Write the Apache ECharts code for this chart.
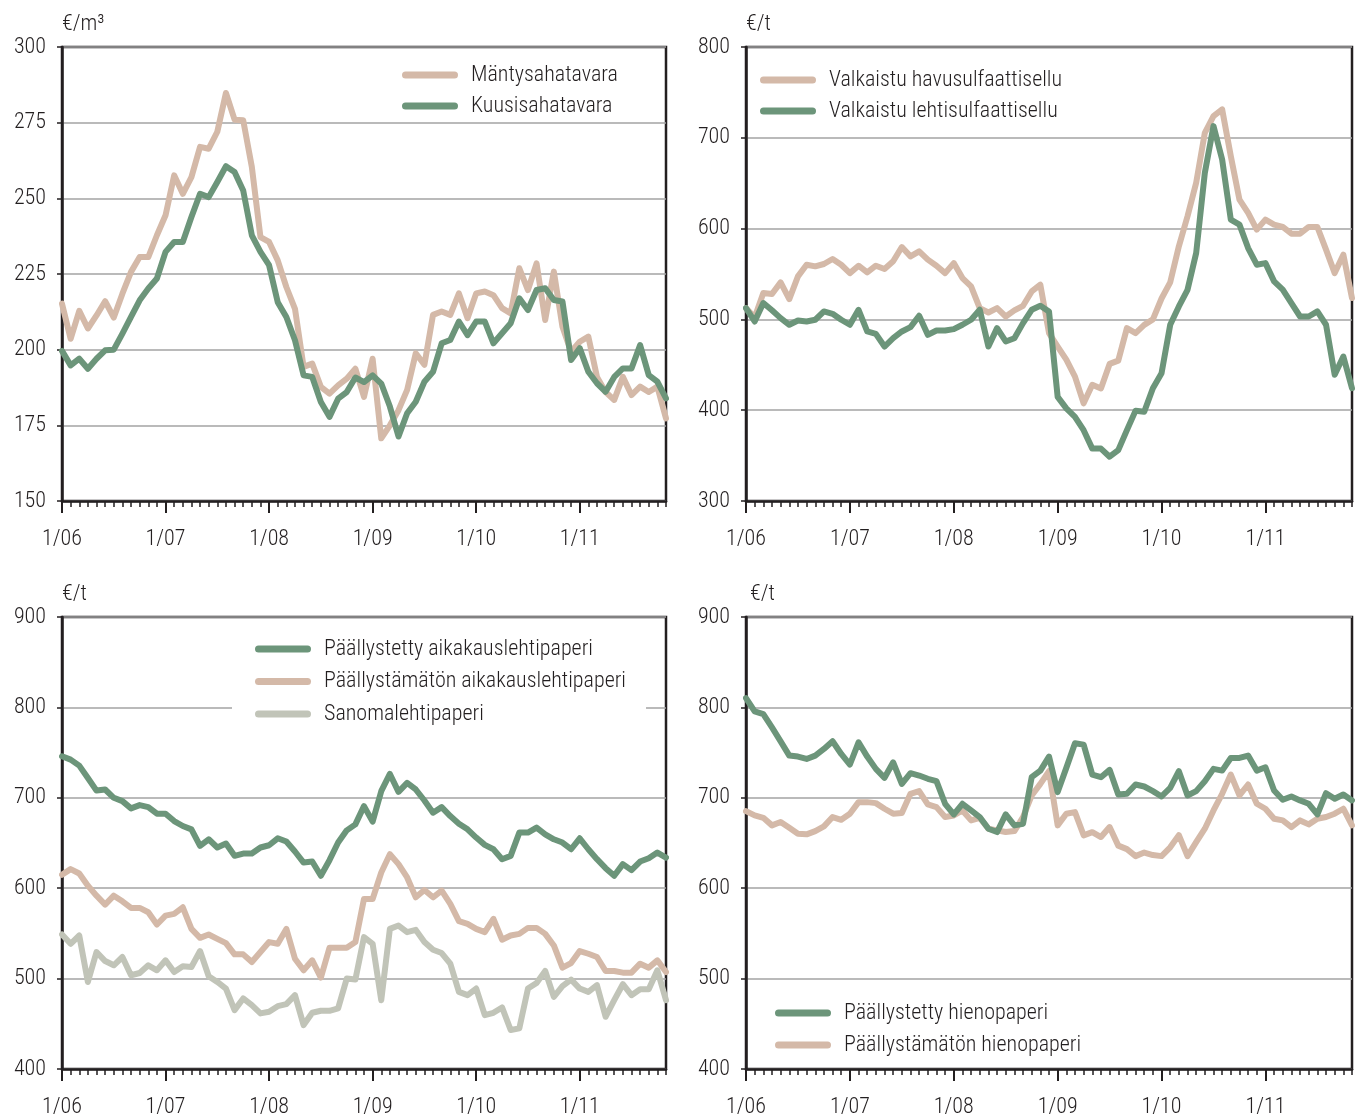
<!doctype html>
<html>
    <head>
        <meta charset="utf-8">
        <style>
            html, body { margin: 0; padding: 0; background: #fff; }
            #main { width: 1360px; height: 1120px; }
        </style>
    </head>
    <body>
        <div id="main"></div>
        <script src="https://cdn.jsdelivr.net/npm/echarts@6/dist/echarts.min.js"></script>
        <script>
            var chart = echarts.init(document.getElementById('main'));

            // x axis: monthly, 1/06 .. 11/11
            var yearLabels = ['06', '07', '08', '09', '10', '11'];
            var months = [];
            yearLabels.forEach(function (y) {
                for (var m = 1; m <= 12; m++) months.push(m + '/' + y);
            });
            months = months.slice(0, 71);

            // sahatavara, €/m³
            var mantysahatavara = [215.2, 203.6, 212.8, 207, 211.3, 216, 210.6, 218.5, 225.7, 230.6, 230.6, 237.8, 244.4, 257.6, 251.5, 257, 267, 266.4, 272, 284.8, 276, 275.8, 260.4, 237.2, 235.6, 229.5, 220.7, 213.5, 194.3, 195.4, 187.7, 185.5, 188.2, 190.4, 193.7, 184.4, 197, 170.7, 175, 180, 186.7, 198.8, 195, 211.5, 212.6, 211.5, 218.6, 210.4, 218.6, 219.2, 218, 213.7, 212, 226.9, 219.7, 228.5, 209.8, 225.8, 207.6, 199.3, 202.6, 204.3, 191, 186, 183.4, 191, 185, 187.8, 186, 187.8, 177.3];
            var kuusisahatavara = [199.6, 194.8, 197, 193.7, 197, 199.8, 200, 205.3, 210.8, 216.3, 220.2, 223.5, 232.3, 235.6, 235.6, 243.8, 251.5, 250.4, 255.4, 260.6, 258.7, 252.6, 237.8, 232.3, 227.9, 215.7, 210.8, 203.1, 191.5, 191, 182.7, 177.8, 183.8, 186, 190.8, 189.3, 191.5, 188.8, 181.2, 171.3, 179, 182.8, 189.4, 192.7, 202.1, 203.2, 209.3, 204.8, 209.3, 209.3, 202.1, 205.4, 208.7, 217, 213.1, 219.7, 220.3, 216.4, 215.9, 196.6, 200.5, 192.7, 188.9, 186.1, 191, 193.8, 193.8, 201.5, 191.6, 189.4, 183.9];

            // sellu, €/t
            var havusulfaatti = [512.4, 502, 529, 528, 540.8, 522.4, 547.4, 560.2, 558.4, 561, 566.5, 560.2, 551, 559.1, 551.8, 559.1, 555.5, 564, 579.7, 569.4, 575, 565.8, 559.1, 551, 562, 545.5, 536.3, 512.4, 507.6, 512.4, 503.2, 509.9, 515, 530.8, 538.2, 485, 470, 455.6, 437, 407.6, 428, 424, 451, 454.6, 490.4, 484.9, 494, 500, 523, 540.8, 580.5, 613.6, 650.4, 705.5, 723.9, 731.3, 679.8, 632, 617.2, 598.9, 609.9, 604.4, 601.8, 594.4, 594.4, 601.8, 601.8, 576.8, 551, 571.3, 523.5];
            var lehtisulfaatti = [512.4, 497.7, 518, 510, 501.4, 494.1, 498.8, 497.7, 499.6, 508.8, 506.2, 499.6, 494.1, 510.6, 486.7, 484.1, 470.1, 479.3, 486.7, 491.5, 504, 483, 487.8, 487.8, 489.3, 494.1, 499.6, 510.6, 470.1, 490.4, 475.7, 479.3, 495.9, 510.6, 515, 508.8, 414.7, 402, 392.6, 378, 357.7, 357.7, 348.8, 356, 378, 399.5, 398.3, 424.2, 440.7, 494, 514.3, 532.6, 573.1, 661.4, 712.9, 676.1, 609.9, 604.4, 578.6, 560.2, 562, 541.9, 532.7, 517.9, 503.2, 503.2, 508.8, 494.1, 439, 459.1, 424.2];

            // aikakauslehtipaperit ja sanomalehtipaperi, €/t
            var paallystettyAikak = [745.9, 742.2, 735.6, 722, 708, 709.2, 700, 696.3, 688.3, 691.9, 689.7, 682.4, 682.4, 674.3, 668.8, 665.1, 646.8, 654.1, 645, 649.4, 635.8, 638.3, 638.3, 645, 647.5, 655.2, 651.6, 640.6, 628.4, 629.5, 613.8, 631, 650.5, 664, 670.6, 690.8, 673.6, 707.3, 726.4, 706.6, 716.5, 709.2, 697, 683.5, 689.7, 679.8, 671.4, 665.1, 656, 647.9, 643.1, 632.1, 635.8, 661.5, 661.5, 667, 659.6, 654.1, 650.5, 643.1, 655.2, 643.1, 632.1, 622.2, 613.8, 626.6, 620, 629.5, 633.2, 639.4, 633.9];
            var paallystamatonAikak = [614.9, 621.1, 616.3, 602.8, 591.7, 581.8, 591.7, 585.5, 578.2, 578.2, 573.4, 559.8, 569.7, 571.6, 578.9, 555, 545.1, 548.8, 544, 539.3, 526.8, 526.8, 518.3, 529.4, 540.4, 538.5, 555, 522, 509.2, 520.2, 501.1, 534.1, 534.1, 534.1, 540.4, 588.1, 588.1, 617.4, 637.6, 626.6, 611.9, 589.9, 598, 589.9, 597.2, 582.6, 563.5, 560.6, 555, 551.4, 566.1, 543, 547.7, 549.5, 556.1, 556.1, 549.5, 536.7, 512.1, 517.2, 530.5, 527.5, 523.9, 508.4, 508.4, 506.6, 506.6, 516.5, 512.1, 520.2, 507.3];
            var sanomalehti = [548.8, 538.5, 547.7, 496.3, 529.4, 519.4, 514.7, 523.9, 503.7, 506.2, 514.7, 509.2, 520.2, 507.3, 513.6, 512.8, 530.5, 502.6, 496.3, 489, 465.1, 478, 470.6, 461.5, 463.3, 469.5, 471.7, 481.7, 448.6, 462.2, 464.4, 464.4, 467, 500, 498.9, 545.9, 538.5, 476.1, 555, 558.7, 551.4, 553.9, 540.4, 531.9, 528.3, 516.5, 485.3, 481.7, 489, 459.6, 462.2, 468.1, 443.1, 444.9, 489, 495.2, 508.4, 479.8, 491.6, 498.9, 489, 485.3, 492.7, 457.8, 476.1, 493.8, 481.7, 488.1, 488.1, 509.2, 476.1];

            // hienopaperit, €/t
            var paallystettyHieno = [810.3, 795.6, 792.6, 777.9, 762.5, 746.7, 745.6, 743, 746.7, 754, 762.5, 748.5, 736.8, 761.4, 745.6, 732, 722.1, 739.3, 715.4, 727.2, 724.6, 721, 718.4, 693.4, 681.6, 693.4, 686, 678.7, 665.8, 662.1, 681.6, 669.5, 671.3, 722.8, 730.1, 745.6, 706.3, 733.1, 760.3, 758.8, 725.7, 722.8, 730.9, 703.7, 704.4, 714.7, 712.5, 707.4, 701.5, 711, 729.4, 702.6, 707.4, 718.4, 732, 730.1, 744.1, 744.1, 746.7, 730.1, 733.8, 708.1, 697.8, 701.5, 697.1, 693.4, 681.6, 705.1, 698.9, 703.7, 697.1];
            var paallystamatonHieno = [685.3, 680.5, 677.9, 669.5, 673.2, 666.9, 660.3, 659.6, 663.2, 668.4, 678.7, 675.7, 682.4, 695.2, 695.2, 694.1, 687.9, 682.4, 683.1, 704.4, 707.4, 692.6, 689.7, 678.7, 680.5, 686, 675, 677.9, 665.8, 664, 662.1, 663.2, 678.7, 702.6, 715.4, 729.4, 669.5, 682.4, 684.2, 658.5, 662, 656.6, 667.6, 647.1, 643.2, 635.5, 639.4, 636.7, 635.5, 645.2, 658.7, 635.5, 651, 665.8, 686, 704.4, 725.7, 702.6, 714.7, 693.4, 687.9, 676.8, 675, 667.6, 675, 670.6, 676.8, 678.7, 682.4, 687.9, 669.5];

            var GREEN = '#6c957a';
            var TAN = '#d4b9a8';
            var GREY = '#c1c4b8';
            var INK = '#231f20';
            var FONT = "'Roboto Condensed', Roboto, sans-serif";
            var WEIGHT = 300;
            // rounded bar used as legend key
            var KEY = 'path://M3.5,0 H52.5 A3.5,3.5 0 0 1 52.5,7 H3.5 A3.5,3.5 0 0 1 3.5,0 Z';

            var panels = [
                { left: 62, top: 47, width: 604, height: 454, min: 150, max: 300, interval: 25, unit: '€/m³',
                  legend: { left: 402, top: 64, padding: 0, gap: 9 },
                  series: [['Mäntysahatavara', mantysahatavara, TAN], ['Kuusisahatavara', kuusisahatavara, GREEN]] },
                { left: 746, top: 47, width: 606, height: 454, min: 300, max: 800, interval: 100, unit: '€/t',
                  legend: { left: 760, top: 69, padding: 0, gap: 9 },
                  series: [['Valkaistu havusulfaattisellu', havusulfaatti, TAN], ['Valkaistu lehtisulfaattisellu', lehtisulfaatti, GREEN]] },
                { left: 62, top: 617, width: 604, height: 452, min: 400, max: 900, interval: 100, unit: '€/t',
                  legend: { left: 232, top: 628, padding: [10, 20, 10, 23], gap: 10.5 },
                  series: [['Sanomalehtipaperi', sanomalehti, GREY], ['Päällystämätön aikakauslehtipaperi', paallystamatonAikak, TAN], ['Päällystetty aikakauslehtipaperi', paallystettyAikak, GREEN]],
                  order: ['Päällystetty aikakauslehtipaperi', 'Päällystämätön aikakauslehtipaperi', 'Sanomalehtipaperi'] },
                { left: 746, top: 617, width: 606, height: 452, min: 400, max: 900, interval: 100, unit: '€/t',
                  legend: { left: 775, top: 1002, padding: 0, gap: 10 },
                  series: [['Päällystämätön hienopaperi', paallystamatonHieno, TAN], ['Päällystetty hienopaperi', paallystettyHieno, GREEN]],
                  order: ['Päällystetty hienopaperi', 'Päällystämätön hienopaperi'] }
            ];

            var option = {
                backgroundColor: '#fff',
                animation: false,
                textStyle: { fontFamily: FONT, fontWeight: WEIGHT },
                grid: [], xAxis: [], yAxis: [], series: [], legend: []
            };

            panels.forEach(function (p, k) {
                option.grid.push({
                    left: p.left, top: p.top, width: p.width, height: p.height,
                    show: true, borderColor: INK, borderWidth: 2.5, backgroundColor: 'transparent'
                });
                // monthly ticks + year labels
                option.xAxis.push({
                    type: 'category', gridIndex: k, data: months, boundaryGap: false,
                    axisLine: { lineStyle: { color: INK, width: 2.5 } },
                    axisTick: { interval: 0, length: 6, lineStyle: { color: INK, width: 1.5 } },
                    axisLabel: {
                        interval: function (i) { return i % 12 === 0; },
                        margin: 27, fontSize: 22, color: INK, fontFamily: FONT, fontWeight: WEIGHT
                    },
                    splitLine: { show: false }
                });
                // yearly (longer) ticks
                option.xAxis.push({
                    type: 'category', gridIndex: k, data: months, boundaryGap: false, position: 'bottom',
                    axisLine: { show: false },
                    axisTick: { interval: function (i) { return i % 12 === 0; }, length: 12, lineStyle: { color: INK, width: 2 } },
                    axisLabel: { show: false },
                    splitLine: { show: false }
                });
                option.yAxis.push({
                    type: 'value', gridIndex: k, min: p.min, max: p.max, interval: p.interval,
                    name: p.unit, nameLocation: 'end', nameGap: 23,
                    nameTextStyle: { fontSize: 22, color: INK, align: 'left', verticalAlign: 'middle', fontFamily: FONT, fontWeight: WEIGHT, padding: [0, 0, 0, k === 3 ? 4 : 0] },
                    axisLine: { show: true, lineStyle: { color: INK, width: 2.5 } },
                    axisTick: { show: true, length: 5, lineStyle: { color: INK, width: 1.5 } },
                    axisLabel: { fontSize: 22, color: INK, margin: 16, fontFamily: FONT, fontWeight: WEIGHT },
                    splitLine: { lineStyle: { color: '#a3a3a3', width: 1.5 } }
                });
                p.series.forEach(function (s) {
                    option.series.push({
                        name: s[0], type: 'line', xAxisIndex: k * 2, yAxisIndex: k,
                        data: s[1], symbol: 'none', color: s[2],
                        lineStyle: { width: 6, color: s[2], cap: 'round', join: 'round' }
                    });
                });
                option.legend.push({
                    data: p.order || p.series.map(function (s) { return s[0]; }),
                    orient: 'vertical', left: p.legend.left, top: p.legend.top, padding: p.legend.padding,
                    backgroundColor: '#fff', icon: KEY,
                    itemWidth: 56, itemHeight: 7, itemGap: p.legend.gap,
                    textStyle: { fontSize: 22, color: INK, fontFamily: FONT, fontWeight: WEIGHT, padding: [0, 0, 0, 8] }
                });
            });

            chart.setOption(option);
            window.onresize = chart.resize;
        </script>
    </body>
</html>
